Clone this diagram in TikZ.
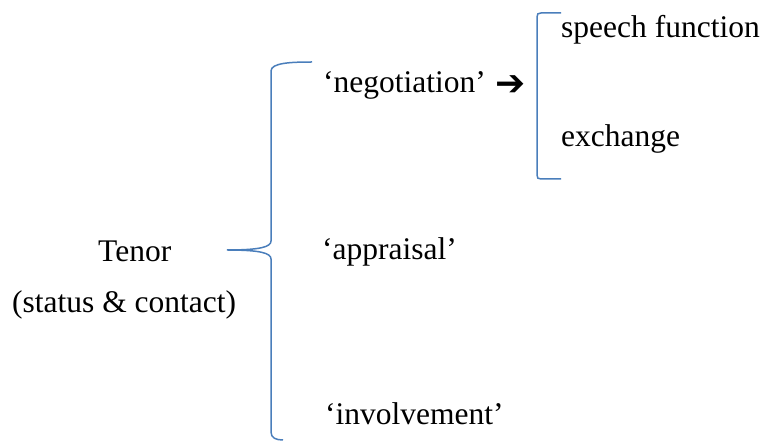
\documentclass[tikz,border=0pt]{standalone}
\usepackage{fontspec}
\setmainfont{Liberation Serif}
\newfontfamily\symfont{DejaVu Sans}
\begin{document}
\begin{tikzpicture}[x=1pt,y=-1pt,
  lbl/.style={inner sep=0pt,font=\fontsize{31.5}{36}\selectfont,anchor=base west},
  bracecol/.style={draw={rgb,255:red,74;green,126;blue,187},line width=1.5pt}]
\useasboundingbox (0,0) rectangle (764,446);

% labels
\node[lbl] (tenor) at (98,262) {Tenor};
\node[lbl] (status) at (12,313) {(status \& contact)};
\node[lbl] (neg) at (323,93) {‘negotiation’};
\node[inner sep=0pt,anchor=west,font=\symfont\bfseries\fontsize{36}{40}\selectfont] (arr) at (495,86) {➔};
\node[lbl] (app) at (322,260) {‘appraisal’};
\node[lbl] (inv) at (325,425) {‘involvement’};
\node[lbl] (sf) at (561,38) {speech function};
\node[lbl] (ex) at (561,147) {exchange};

% large curly brace
\coordinate (bTop) at (312,62);
\coordinate (bTip) at (227,250);
\coordinate (bBot) at (283,440);
\draw[bracecol] (bTop) .. controls (290,62) and (271,63) .. (271,71)
  -- (271,241) .. controls (271,247) and (260,250) .. (bTip)
  .. controls (260,250) and (271,253) .. (271,259)
  -- (271,432) .. controls (271,438) and (276,440) .. (bBot);

% small square bracket
\coordinate (sTop) at (561,13);
\coordinate (sBot) at (561,179);
\draw[bracecol] (sTop) -- (541,13) .. controls (538,13) and (537,14) .. (537,17)
  -- (537,175) .. controls (537,178) and (538,179) .. (541,179) -- (sBot);
\end{tikzpicture}
\end{document}
